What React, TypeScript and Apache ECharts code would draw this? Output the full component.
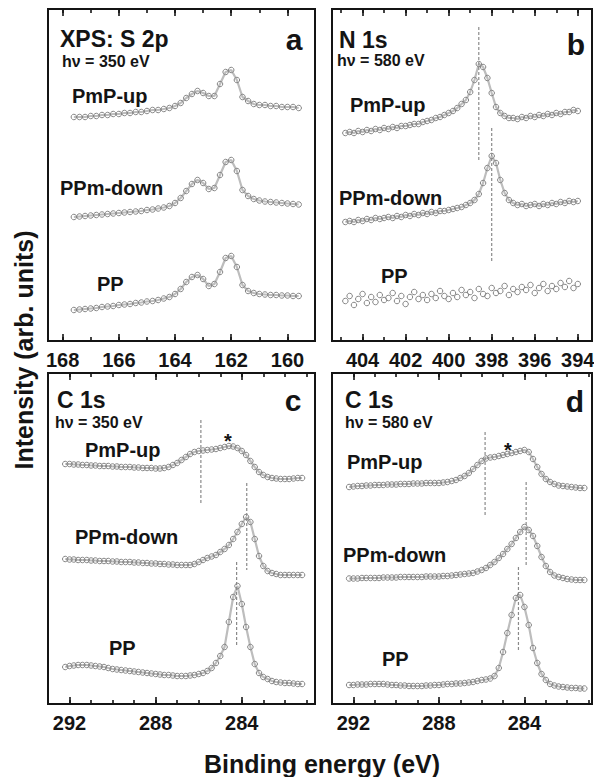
import React, { useEffect, useRef } from "react";
import * as echarts from "echarts";

// ---------- data (binding energy in eV, intensity in arbitrary offset units) ----------
const energyA = [167.6,167.4,167.2,167.0,166.8,166.6,166.4,166.2,166.0,165.8,165.6,165.4,165.2,165.0,164.8,164.6,164.4,164.2,164.0,163.8,163.6,163.4,163.2,163.0,162.8,162.6,162.4,162.2,162.0,161.8,161.6,161.4,161.2,161.0,160.8,160.6,160.4,160.2,160.0,159.8,159.6];
const s2pPmPup = [224,224,224,225,225,226,226,227,227,228,228,229,229,230,231,231,232,233,235,238,243,247,250,248,245,245,257,269,271,261,244,240,237,236,236,235,235,234,234,234,233];
const s2pPPmDown = [124,124.5,125,125.5,126,126.5,127,127.5,128,128.5,129,129.5,130,131,131.5,132.5,133.5,135,138,143,150,157,161,158,152,153,166,179,181,170,151,145,142,140.5,139.5,139,138.5,138,137.5,137,136.5];
const s2pPP = [31,31.5,32,32.5,33,34,34.5,35,36,36.5,37,38,38.5,39.5,40,41,42.5,44,47,52,59,64,66,62,55,57,69,83,85,74,56,50,48,47,46.5,46,46,45.5,45.5,45,45];

const energyB = [404.8,404.6,404.4,404.2,404.0,403.8,403.6,403.4,403.2,403.0,402.8,402.6,402.4,402.2,402.0,401.8,401.6,401.4,401.2,401.0,400.8,400.6,400.4,400.2,400.0,399.8,399.6,399.4,399.2,399.0,398.8,398.6,398.4,398.2,398.0,397.8,397.6,397.4,397.2,397.0,396.8,396.6,396.4,396.2,396.0,395.8,395.6,395.4,395.2,395.0,394.8,394.6,394.4,394.2,394.0];
const n1sPmPup = [208,209,208,210,209,211,210,212,211,213,212,214,213,215,215,216,217,217,219,220,221,223,224,226,228,230,233,237,241,249,261,277,274,263,248,234,228,225,223,223,222,224,223,225,224,226,225,227,226,228,227,229,229,231,230];
const n1sPPmDown = [119,120,119,121,120,122,121,123,122,123,124,123,125,124,126,125,127,126,128,127,129,128,130,130,131,132,133,134,136,138,141,147,158,173,185,178,161,148,141,138,136,137,135,136,137,135,137,136,138,137,139,138,140,139,140];
const n1sPP = [40,45,36,42,47,38,44,39,46,41,43,48,40,45,37,44,49,42,46,41,47,43,50,45,42,48,44,51,46,49,43,52,47,45,53,48,50,55,46,52,49,54,51,56,48,53,57,50,55,52,58,54,60,53,57];

const energyC = [292.2,292.0,291.8,291.6,291.4,291.2,291.0,290.8,290.6,290.4,290.2,290.0,289.8,289.6,289.4,289.2,289.0,288.8,288.6,288.4,288.2,288.0,287.8,287.6,287.4,287.2,287.0,286.8,286.6,286.4,286.2,286.0,285.8,285.6,285.4,285.2,285.0,284.8,284.6,284.4,284.2,284.0,283.8,283.6,283.4,283.2,283.0,282.8,282.6,282.4,282.2,282.0,281.8,281.6,281.4,281.2];
const c1s350PmPup = [240,240,239.5,239.5,239,239,238.5,238.5,238,238,238,237.5,237.5,237,237,237,236.5,236.5,236,236,236,235.5,235.5,236,237,239,241,244,247,250,252,253,253.5,254,254.5,255,256,257,258,257.5,256,253,249,243,237,232,229,227,226,225.5,225,225,225,225.5,226,226];
const c1s350PPmDown = [145,144.5,144.5,144,144,144,143.5,143.5,143,143,143,142.5,142.5,142,142,142,141.5,141.5,141,141,140.5,140.5,140,140,139.5,139.5,139,139,139,139,140,142,144,146,147.5,149,152,155,159,165,172,180,187,182,165,148,138,133,131,130,129,129,129,129,129,129];
const c1s350PP = [37,38,38.5,39,39,39,38.5,38,37.5,37,36,35,34.5,34,33.5,33,32.5,32,31.5,31,30.5,30,29.5,29,29,28.5,28,28,28,28.5,29,30,31,33,36,41,48,57,82,107,118,100,77,57,40,31,27,25,23,22,21.5,21,21,20.5,20,20];

const c1s580PmPup = [217,217.5,218,218,218.5,218.5,219,219,219,219.5,219.5,219.5,220,220,220,220.5,220.5,220.5,221,221,221,221,221.5,222,223,224,226,228,231,235,239,243,245.5,246.5,247,248,249,250,251,252,253,254,252,245,237,230,225,222,220,218.5,218,217.5,217,216.5,216,216];
const c1s580PPmDown = [125.5,125.5,125.5,126,126,126,126,126,126.5,126.5,126.5,126.5,127,127,127,127,127,127,127.5,127.5,127.5,127.5,128,128,128.5,129,129.5,130,130.5,131,132.5,134,136,139,142,146,150,155,160,166,172,177,174,168,158,147,138,132,128.5,127,126,125,124.5,124,124,124];
const c1s580PP = [19,19,19.5,19.5,19.5,20,20,20,20,19.5,19,19,18.5,18.5,18,18,18,18,18.5,18.5,19,19,19.5,20,20,20.5,20.5,21,21.5,22,23,24,24.5,25.5,28,36,52,71,89,106,109,97,79,56,41,30,24,20,18.5,17.5,17,16.5,16,16,15.5,15.5];

// tick values
const majorA = [168, 166, 164, 162, 160];
const minorA = [168, 167, 166, 165, 164, 163, 162, 161, 160, 159];
const majorB = [404, 402, 400, 398, 396, 394];
const minorB = [405, 404, 403, 402, 401, 400, 399, 398, 397, 396, 395, 394];
const majorC = [292, 288, 284];
const minorC = [292, 291, 290, 289, 288, 287, 286, 285, 284, 283, 282, 281];

// dashed reference lines: [energy, from, to]
const dashB = [[398.6, 314, 179], [398.0, 213, 78]];
const dashC = [[285.9, 284, 199], [283.77, 221, 134], [284.24, 142, 59]];
const dashD = [[285.84, 272, 187], [283.92, 222, 137], [284.28, 137, 54]];

const FONT = "'Liberation Sans', Arial, Helvetica, sans-serif";
const INK = "#141414";

function zip(xs: number[], ys: number[]) {
  return xs.map((x, i) => [x, ys[i]]);
}

function buildOption() {
  const panels = [
    { grid: { left: 48, top: 9, width: 267, height: 332 }, min: 159.02, max: 168.52, major: majorA, minor: minorA, ymax: 332, x: energyA, series: [s2pPmPup, s2pPPmDown, s2pPP], dashes: [] as number[][], noLine: [] as number[] },
    { grid: { left: 332, top: 9, width: 260, height: 332 }, min: 393.34, max: 405.42, major: majorB, minor: minorB, ymax: 332, x: energyB, series: [n1sPmPup, n1sPPmDown, n1sPP], dashes: dashB, noLine: [2] },
    { grid: { left: 48, top: 373, width: 267, height: 331 }, min: 280.6, max: 293.0, major: majorC, minor: minorC, ymax: 331, x: energyC, series: [c1s350PmPup, c1s350PPmDown, c1s350PP], dashes: dashC, noLine: [] as number[] },
    { grid: { left: 332, top: 373, width: 260, height: 331 }, min: 280.84, max: 293.0, major: majorC, minor: minorC, ymax: 331, x: energyC, series: [c1s580PmPup, c1s580PPmDown, c1s580PP], dashes: dashD, noLine: [] as number[] },
  ];

  const grids: any[] = [];
  const xAxes: any[] = [];
  const yAxes: any[] = [];
  const series: any[] = [];

  panels.forEach((p, i) => {
    grids.push({ ...p.grid, show: true, borderColor: INK, borderWidth: 2, backgroundColor: "transparent", containLabel: false, outerBoundsMode: "none" });
    const base = { gridIndex: i, type: "value", min: p.min, max: p.max, inverse: true, splitLine: { show: false }, axisLine: { show: false } };
    const tick = (vals: number[], len: number) => ({ show: true, inside: true, length: len, customValues: vals, lineStyle: { color: INK, width: 1.6 } });
    xAxes.push({ ...base, position: "bottom", axisTick: tick(p.major, 7), axisLabel: { customValues: p.major, fontSize: 20, fontWeight: "bold", fontFamily: FONT, color: INK, margin: 9, hideOverlap: false } });
    xAxes.push({ ...base, position: "bottom", axisTick: tick(p.minor, 4), axisLabel: { show: false } });
    xAxes.push({ ...base, position: "top", axisTick: tick(p.major, 7), axisLabel: { show: false } });
    xAxes.push({ ...base, position: "top", axisTick: tick(p.minor, 4), axisLabel: { show: false } });
    yAxes.push({ gridIndex: i, type: "value", min: 0, max: p.ymax, show: false });

    p.series.forEach((ys, k) => {
      const noLine = p.noLine.includes(k);
      series.push({
        type: "line",
        xAxisIndex: 4 * i,
        yAxisIndex: i,
        data: zip(p.x, ys),
        symbol: "circle",
        symbolSize: 5.5,
        showAllSymbol: true,
        silent: true,
        itemStyle: { color: "rgba(255,255,255,0)", borderColor: "#858585", borderWidth: 1 },
        lineStyle: noLine ? { width: 0, opacity: 0 } : { color: "#bdbdbd", width: 2.2 },
        z: 2,
      });
    });
    p.dashes.forEach((d) => {
      series.push({
        type: "line",
        xAxisIndex: 4 * i,
        yAxisIndex: i,
        data: [[d[0], d[1]], [d[0], d[2]]],
        symbol: "none",
        silent: true,
        lineStyle: { color: "#8a8a8a", width: 1.2, type: [3, 2] },
        z: 3,
      });
    });
  });

  const t = (text: string, x: number, y: number, size: number, align = "left") => ({
    type: "text",
    x,
    y,
    silent: true,
    style: { text, fill: INK, font: `bold ${size}px ${FONT}`, align, verticalAlign: "middle" },
    z: 10,
  });

  const graphics: any[] = [
    t("XPS: S 2p", 60, 39, 23),
    t("hν = 350 eV", 62, 61, 16),
    t("a", 294, 39, 30, "center"),
    t("PmP-up", 72, 96, 20),
    t("PPm-down", 60, 188, 20),
    t("PP", 97, 284, 20),

    t("N 1s", 339, 39.5, 23),
    t("hν = 580 eV", 337, 60, 16),
    t("b", 576, 44, 30, "center"),
    t("PmP-up", 350, 105, 20),
    t("PPm-down", 339, 198, 20),
    t("PP", 381, 276, 20),

    t("C 1s", 57, 399.5, 23),
    t("hν = 350 eV", 55, 422.5, 16),
    t("c", 293, 400, 30, "center"),
    t("PmP-up", 85, 450, 20),
    t("*", 228, 441, 20, "center"),
    t("PPm-down", 75, 537, 20),
    t("PP", 109, 648, 20),

    t("C 1s", 345, 399.5, 23),
    t("hν = 580 eV", 345, 422.5, 16),
    t("d", 575, 401, 30, "center"),
    t("PmP-up", 347, 461.5, 20),
    t("*", 508, 450, 20, "center"),
    t("PPm-down", 343, 554.5, 20),
    t("PP", 382, 659, 20),

    {
      type: "text",
      x: 24,
      y: 350,
      rotation: Math.PI / 2,
      silent: true,
      style: { text: "Intensity (arb. units)", fill: INK, font: `bold 25px ${FONT}`, align: "center", verticalAlign: "middle" },
    },
    t("Binding energy (eV)", 322, 764, 25, "center"),
  ];

  return {
    animation: false,
    backgroundColor: "#ffffff",
    textStyle: { fontFamily: FONT },
    grid: grids,
    xAxis: xAxes,
    yAxis: yAxes,
    series,
    graphic: graphics,
  };
}

export default function App() {
  const ref = useRef<HTMLDivElement>(null);
  useEffect(() => {
    if (!ref.current) return;
    const chart = echarts.init(ref.current, null, { renderer: "svg" });
    chart.setOption(buildOption() as any);
    return () => chart.dispose();
  }, []);
  return (
    <div
      ref={ref}
      style={{ position: "fixed", left: 0, top: 0, width: 594, height: 777, background: "#fff" }}
    />
  );
}
